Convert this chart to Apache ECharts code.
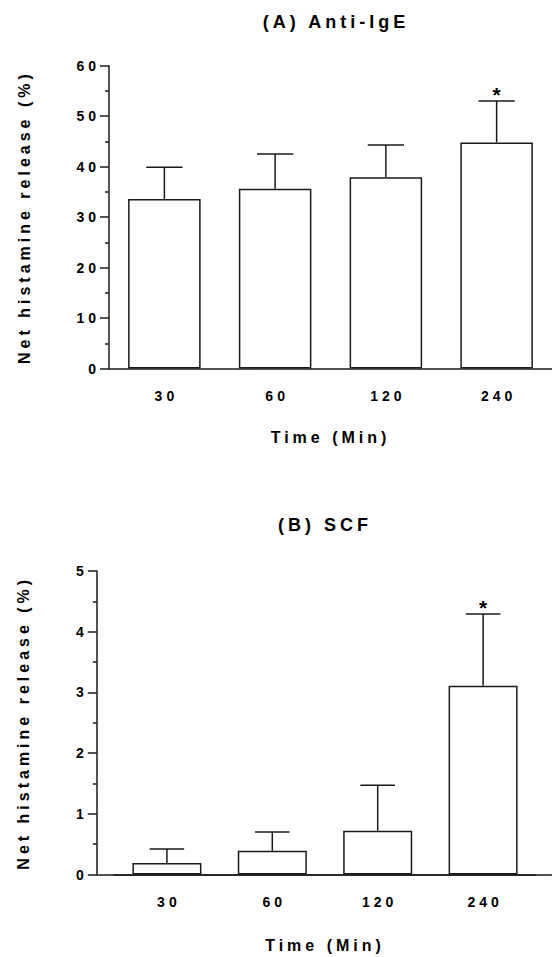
<!DOCTYPE html>
<html>
<head>
<meta charset="utf-8">
<script src="https://cdn.jsdelivr.net/npm/echarts@6/dist/echarts.min.js"></script>
<style>
  html, body { margin: 0; padding: 0; background: #fff; }
  #chart { width: 552px; height: 957px; }
  #chart text { letter-spacing: 4px; }
  #chart text.nm { letter-spacing: 3.5px; }
</style>
</head>
<body>
<div id="chart"></div>
<script>
// ---- data ----
const categories = ['30', '60', '120', '240'];
const antiIgeMean = [33.6, 35.6, 37.9, 44.8];
const antiIgeSem = [6.3, 6.9, 6.4, 8.2];
const antiIgeSig = ['', '', '', '*'];
const scfMean = [0.19, 0.39, 0.72, 3.11];
const scfSem = [0.23, 0.31, 0.75, 1.18];
const scfSig = ['', '', '', '*'];
const titleA = '(A) Anti-IgE';
const titleB = '(B) SCF';
const xName = 'Time (Min)';
const yName = 'Net histamine release (%)';
const yMaxA = 60, yStepA = 10;
const yMaxB = 5, yStepB = 1;

// ---- styles ----
const FONT = "'Liberation Sans', Arial, sans-serif";
const INK = '#1a1a1a';
const TXT = '#000';
const LW = 1.5;
const BAR_W = 0.655;

function errData(mean, sem) {
  return mean.map((m, i) => [i, m, sem[i]]);
}

function renderErr(params, api) {
  const i = api.value(0), m = api.value(1), e = api.value(2);
  const p0 = api.coord([i, m]);
  const p1 = api.coord([i, m + e]);
  const band = api.size([1, 0])[0];
  const half = band * BAR_W * 0.25;
  return { type: 'group', children: [
    { type: 'line', shape: { x1: p0[0], y1: p0[1], x2: p1[0], y2: p1[1] },
      style: { stroke: INK, lineWidth: LW } },
    { type: 'line', shape: { x1: p1[0] - half, y1: p1[1], x2: p1[0] + half, y2: p1[1] },
      style: { stroke: INK, lineWidth: LW } }
  ] };
}

function makeStarRender(sigArr) {
  return function (params, api) {
    const i = api.value(0), m = api.value(1), e = api.value(2);
    const s = sigArr[params.dataIndex];
    if (!s) return null;
    const p1 = api.coord([i, m + e]);
    return { type: 'text', x: p1[0] + 2, y: p1[1] + 4,
      style: { text: s, fill: TXT, font: 'bold 21px ' + FONT, align: 'center', verticalAlign: 'bottom' } };
  };
}

const axisLabelStyle = { color: TXT, fontFamily: FONT, fontWeight: 'bold', fontSize: 14 };
const nameStyle = { color: TXT, fontFamily: FONT, fontWeight: 'bold', fontSize: 16 };

function xAxisCfg(gridIndex, nameGap) {
  return {
    type: 'category', gridIndex, data: categories,
    axisLine: { lineStyle: { color: INK, width: LW } },
    axisTick: { alignWithLabel: true, length: 9, lineStyle: { color: INK, width: LW } },
    axisLabel: Object.assign({ margin: 20, padding: [0, 0, 0, 4] }, axisLabelStyle),
    name: xName, nameLocation: 'middle', nameGap, nameTextStyle: nameStyle,
    splitLine: { show: false }
  };
}
function yAxisCfg(gridIndex, max, step, offset, nameGap) {
  return {
    type: 'value', gridIndex, min: 0, max, interval: step, offset,
    axisLine: { show: true, lineStyle: { color: INK, width: LW } },
    axisTick: { show: true, length: 9, lineStyle: { color: INK, width: LW } },
    minorTick: { show: true, splitNumber: 2, length: 4, lineStyle: { color: INK, width: LW } },
    axisLabel: Object.assign({ margin: 9 }, axisLabelStyle),
    splitLine: { show: false },
    name: yName, nameLocation: 'middle', nameGap, nameRotate: 90, nameTextStyle: nameStyle
  };
}

const chart = echarts.init(document.getElementById('chart'), null, { renderer: 'svg', width: 552, height: 957 });
chart.setOption({
  backgroundColor: '#fff',
  animation: false,
  title: [
    { text: titleA, left: 336, top: 13, textAlign: 'center', padding: 0,
      textStyle: { color: TXT, fontFamily: FONT, fontWeight: 'bold', fontSize: 18 } },
    { text: titleB, left: 325, top: 516, textAlign: 'center', padding: 0,
      textStyle: { color: TXT, fontFamily: FONT, fontWeight: 'bold', fontSize: 18 } }
  ],
  grid: [
    { left: 109, width: 454, top: 65.7, height: 302.8, containLabel: false },
    { left: 114.2, width: 421.6, top: 571, height: 303.5, containLabel: false },
    { left: 96.8, width: 457, top: 571, height: 303.5, containLabel: false }
  ],
  xAxis: [
    xAxisCfg(0, 61),
    xAxisCfg(1, 63),
    { type: 'value', gridIndex: 2, min: 0, max: 1,
      axisLine: { show: true, lineStyle: { color: INK, width: LW } },
      axisTick: { show: false }, axisLabel: { show: false }, splitLine: { show: false } }
  ],
  yAxis: [
    yAxisCfg(0, yMaxA, yStepA, 0, 77),
    yAxisCfg(1, yMaxB, yStepB, 17.4, 65),
    { type: 'value', gridIndex: 2, show: false, min: 0, max: 1 }
  ],
  series: [
    { type: 'bar', xAxisIndex: 0, yAxisIndex: 0, data: antiIgeMean, barWidth: '65.5%',
      itemStyle: { color: '#fff', borderColor: INK, borderWidth: LW } },
    { type: 'custom', xAxisIndex: 0, yAxisIndex: 0, data: errData(antiIgeMean, antiIgeSem),
      renderItem: renderErr, z: 3 },
    { type: 'custom', xAxisIndex: 0, yAxisIndex: 0, data: errData(antiIgeMean, antiIgeSem),
      renderItem: makeStarRender(antiIgeSig), z: 3 },
    { type: 'bar', xAxisIndex: 1, yAxisIndex: 1, data: scfMean, barWidth: '65.5%',
      itemStyle: { color: '#fff', borderColor: INK, borderWidth: LW } },
    { type: 'custom', xAxisIndex: 1, yAxisIndex: 1, data: errData(scfMean, scfSem),
      renderItem: renderErr, z: 3 },
    { type: 'custom', xAxisIndex: 1, yAxisIndex: 1, data: errData(scfMean, scfSem),
      renderItem: makeStarRender(scfSig), z: 3 }
  ]
});
</script>
</body>
</html>
